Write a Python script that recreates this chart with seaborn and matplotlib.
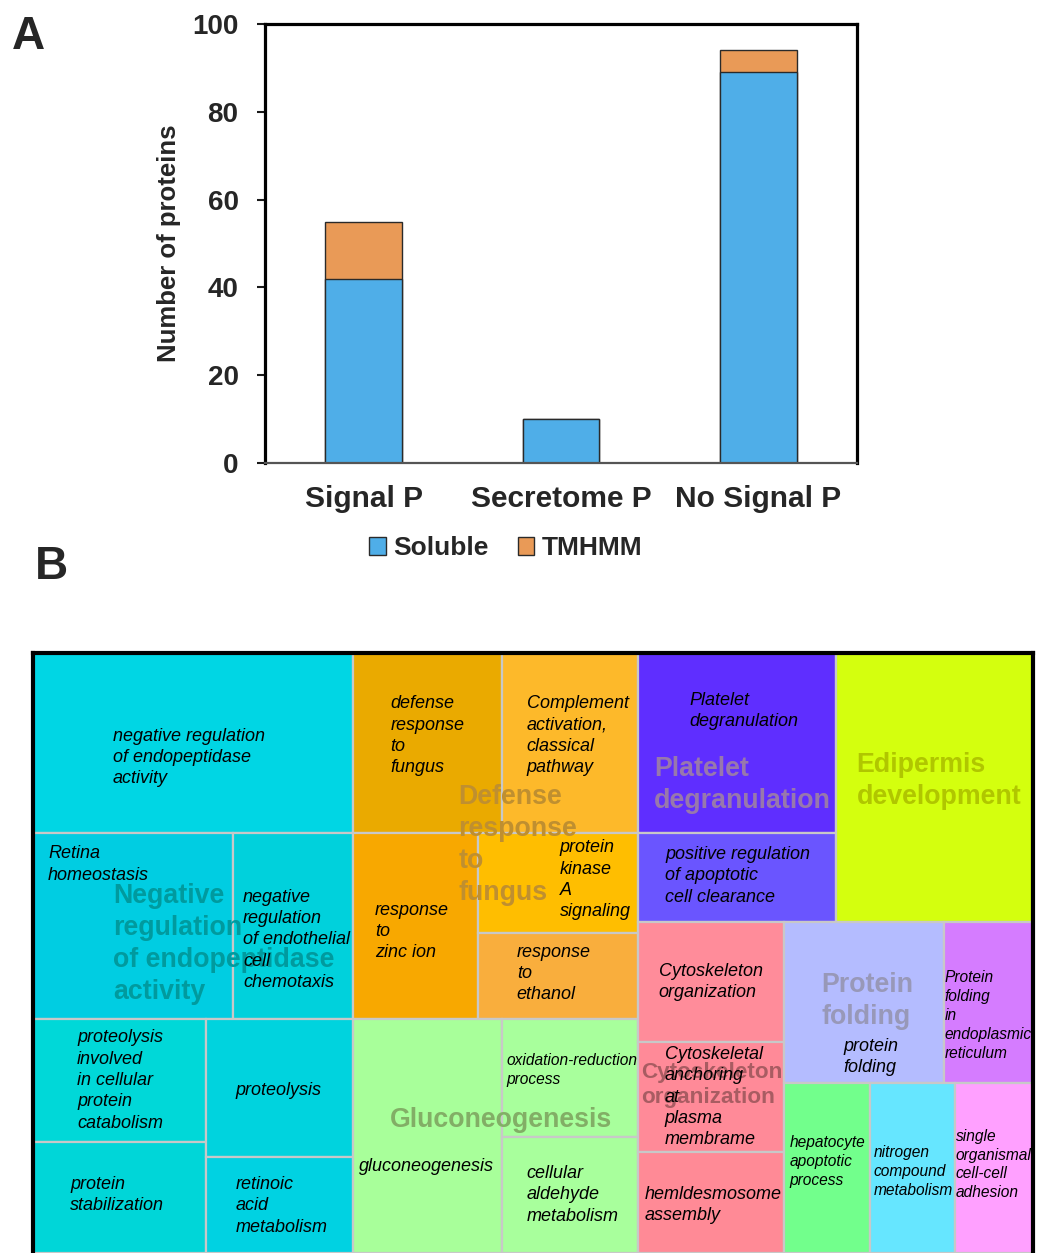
import numpy as np
import pandas as pd
import seaborn as sns
import matplotlib
matplotlib.use("Agg")
import matplotlib.pyplot as plt
from matplotlib.patches import Rectangle, Patch

# ---------------- Panel A data ----------------
categories = ["Signal P", "Secretome P", "No Signal P"]
soluble = [42, 10, 89]
tmhmm = [13, 0, 5]
series_names = ["Soluble", "TMHMM"]
yticks = [0, 20, 40, 60, 80, 100]

# ---------------- Panel B data (treemap) ----------------
term_names = [
    "negative regulation\nof endopeptidase\nactivity",
    "Retina\nhomeostasis",
    "negative\nregulation\nof endothelial\ncell\nchemotaxis",
    "proteolysis\ninvolved\nin cellular\nprotein\ncatabolism",
    "protein\nstabilization",
    "proteolysis",
    "retinoic\nacid\nmetabolism",
    "defense\nresponse\nto\nfungus",
    "Complement\nactivation,\nclassical\npathway",
    "response\nto\nzinc ion",
    "protein\nkinase\nA\nsignaling",
    "response\nto\nethanol",
    "gluconeogenesis",
    "oxidation-reduction\nprocess",
    "cellular\naldehyde\nmetabolism",
    "Platelet\ndegranulation",
    "positive regulation\nof apoptotic\ncell clearance",
    "",
    "Cytoskeleton\norganization",
    "Cytoskeletal\nanchoring\nat\nplasma\nmembrame",
    "hemldesmosome\nassembly",
    "protein\nfolding",
    "Protein\nfolding\nin\nendoplasmic\nreticulum",
    "hepatocyte\napoptotic\nprocess",
    "nitrogen\ncompound\nmetabolism",
    "single\norganismal\ncell-cell\nadhesion",
]
term_sizes = [57.6, 37.2, 22.3, 21.3, 19.2, 20.3, 14.1,
              26.8, 24.5, 23.3, 16.0, 13.8,
              34.9, 16.0, 15.8,
              35.6, 17.6, 53.0,
              17.5, 16.1, 14.7,
              25.6, 14.3,
              14.5, 14.5, 13.3]
term_groups = [0, 0, 0, 0, 0, 0, 0,
               1, 1, 1, 1, 1,
               2, 2, 2,
               3, 3, 4,
               5, 5, 5,
               6, 7,
               8, 9, 10]
group_names = [
    "Negative\nregulation\nof endopeptidase\nactivity",
    "Defense\nresponse\nto\nfungus",
    "Gluconeogenesis",
    "Platelet\ndegranulation",
    "Edipermis\ndevelopment",
    "Cytoskeleton\norganization",
    "Protein\nfolding",
    "", "", "", "",
]
# nesting of the treemap: 'h' = side by side, 'v' = stacked
treemap_tree = ("h", [
    ("v", [0, ("h", [1, 2]), ("h", [("v", [3, 4]), ("v", [5, 6])])]),
    ("v", [("h", [7, 8]), ("h", [9, ("v", [10, 11])]), ("h", [12, ("v", [13, 14])])]),
    ("v", [("h", [("v", [15, 16]), 17]),
           ("h", [("v", [18, 19, 20]), ("v", [("h", [21, 22]), ("h", [23, 24, 25])])])]),
])

# ---------------- styles ----------------
term_colors = ["#00D6E4", "#00CDE2", "#00D1DC", "#00D8D8", "#00D6D8", "#00D3DE", "#00D2E2",
               "#EAAA00", "#FDB92A", "#F8A800", "#FFBE00", "#F9AE3D",
               "#A8FF9A", "#A8FF9C", "#A8FF9C",
               "#5F2EFF", "#6A55FF", "#D4FF0E",
               "#FF8C9A", "#FF8A98", "#FF8A96",
               "#B4BCFF", "#D57CFF",
               "#72FF8C", "#66E6FF", "#FFA0FF"]
group_label_colors = ["#009A9E", "#BF8F30", "#82AE66", "#9878AC", "#B0C600",
                      "#A85C62", "#9898B8", "k", "k", "k", "k"]
group_anchor = [(0.595, 0.485), (0.577, 0.525), (0.519, 0.43), (0.528, 0.49),
                (0.523, 0.475), (0.5, 0.492), (0.52, 0.49),
                (0.5, 0.5), (0.5, 0.5), (0.5, 0.5), (0.5, 0.5)]
group_font = [19.3, 19.3, 19.3, 19.3, 19.3, 16.2, 19.3, 19, 19, 19, 19]
label_anchor = [(0.25, 0.58), (0.075, 0.17), (0.083, 0.575), (0.254, 0.5), (0.214, 0.48),
                (0.2, 0.52), (0.2, 0.51), (0.25, 0.46), (0.18, 0.46), (0.176, 0.53),
                (0.51, 0.47), (0.24, 0.47), (0.04, 0.63), (0.03, 0.43), (0.18, 0.5),
                (0.26, 0.32), (0.136, 0.48), (0.5, 0.5), (0.14, 0.5), (0.18, 0.5),
                (0.04, 0.52), (0.37, 0.84), (0.01, 0.58), (0.06, 0.46), (0.05, 0.52),
                (0.01, 0.48)]
small_font = {13: 11.2, 22: 11.2, 23: 11.2, 24: 11.2, 25: 11.2}

BLUE = "#4FAEE8"
ORANGE = "#E99A57"

sns.set_theme(style="white")
plt.rcParams["font.family"] = ["Liberation Sans", "DejaVu Sans"]

W, H = 1042, 1253
fig = plt.figure(figsize=(W / 100, H / 100), dpi=100)

# ---------------- Panel A ----------------
ax = fig.add_axes([265 / W, 1 - 463 / H, 592 / W, 439 / H])
df = pd.DataFrame({"cat": categories, "Soluble": soluble, "TMHMM": tmhmm})
df["total"] = df["Soluble"] + df["TMHMM"]
sns.barplot(data=df, x="cat", y="total", color=ORANGE, saturation=1, width=0.39,
            edgecolor="#2a2a2a", linewidth=1, errorbar=None, ax=ax)
sns.barplot(data=df, x="cat", y="Soluble", color=BLUE, saturation=1, width=0.39,
            edgecolor="#2a2a2a", linewidth=1, errorbar=None, ax=ax)
ax.set_xlim(-0.5, 2.5)
ax.set_ylim(0, 100)
ax.set_yticks(yticks)
ax.set_yticklabels([str(t) for t in yticks], fontsize=20, fontweight="bold")
ax.set_xticks(range(len(categories)))
ax.set_xticklabels(categories, fontsize=21.5, fontweight="bold")
ax.tick_params(axis="y", left=True, direction="out", length=6, width=1.5, pad=13, color="k")
ax.tick_params(axis="x", bottom=False, length=0, pad=16)
ax.set_xlabel("")
ax.set_ylabel("Number of proteins", fontsize=18.5, fontweight="bold")
ax.yaxis.set_label_coords(-0.142, 0.5)
for s in ["left", "top", "right"]:
    ax.spines[s].set_visible(True)
    ax.spines[s].set_color("black")
    ax.spines[s].set_linewidth(2.3)
ax.spines["bottom"].set_color("#555555")
ax.spines["bottom"].set_linewidth(1.6)

handles = [Patch(facecolor=BLUE, edgecolor="#2a2a2a", label=series_names[0]),
           Patch(facecolor=ORANGE, edgecolor="#2a2a2a", label=series_names[1])]
fig.legend(handles=handles, loc="center", bbox_to_anchor=(506 / W, 1 - 548 / H), ncol=2,
           frameon=False, prop={"weight": "bold", "size": 19}, handlelength=0.62,
           handleheight=0.68, handletextpad=0.3, columnspacing=1.1)

fig.text(12 / W, 1 - 37 / H, "A", fontsize=33, fontweight="bold", va="center", ha="left")
fig.text(35 / W, 1 - 567 / H, "B", fontsize=33, fontweight="bold", va="center", ha="left")

# ---------------- Panel B (treemap) ----------------
TW, TH = 1000.0, 600.0
ax2 = fig.add_axes([33 / W, 0, TW / W, TH / H])
ax2.set_xlim(0, TW)
ax2.set_ylim(TH, 0)
ax2.set_xticks([])
ax2.set_yticks([])


def node_total(node):
    if isinstance(node, int):
        return term_sizes[node]
    return sum(node_total(c) for c in node[1])


rects = {}


def layout(node, x, y, w, h):
    if isinstance(node, int):
        rects[node] = (x, y, w, h)
        return
    direction, children = node
    sizes = [node_total(c) for c in children]
    tot = sum(sizes)
    pos = 0.0
    for c, s in zip(children, sizes):
        f = s / tot
        if direction == "h":
            layout(c, x + pos * w, y, f * w, h)
        else:
            layout(c, x, y + pos * h, w, f * h)
        pos += f


layout(treemap_tree, 0, 0, TW, TH)

for i in range(len(term_names)):
    x, y, w, h = rects[i]
    ax2.add_patch(Rectangle((x, y), w, h, facecolor=term_colors[i], edgecolor="#C8C8C8",
                            linewidth=1.6, zorder=1))

# group (big) labels
for g, name in enumerate(group_names):
    if not name:
        continue
    members = [i for i, gg in enumerate(term_groups) if gg == g]
    x0 = min(rects[i][0] for i in members)
    y0 = min(rects[i][1] for i in members)
    x1 = max(rects[i][0] + rects[i][2] for i in members)
    y1 = max(rects[i][1] + rects[i][3] for i in members)
    fx, fy = group_anchor[g]
    ax2.text(x0 + fx * (x1 - x0), y0 + fy * (y1 - y0), name, ha="center", va="center",
             multialignment="left", fontsize=group_font[g], fontweight="bold",
             color=group_label_colors[g], linespacing=1.3, zorder=2, clip_on=True)

# term (small) labels
for i, name in enumerate(term_names):
    if not name:
        continue
    x, y, w, h = rects[i]
    fx, fy = label_anchor[i]
    ax2.text(x + fx * w, y + fy * h, name, ha="left", va="center", multialignment="left",
             fontsize=small_font.get(i, 13), style="italic", color="black",
             linespacing=1.33, zorder=3, clip_on=True)

for s in ["left", "top", "right"]:
    ax2.spines[s].set_visible(True)
    ax2.spines[s].set_color("black")
    ax2.spines[s].set_linewidth(3)
    ax2.spines[s].set_zorder(5)
ax2.spines["bottom"].set_visible(False)

fig.savefig("out.png", dpi=100)
